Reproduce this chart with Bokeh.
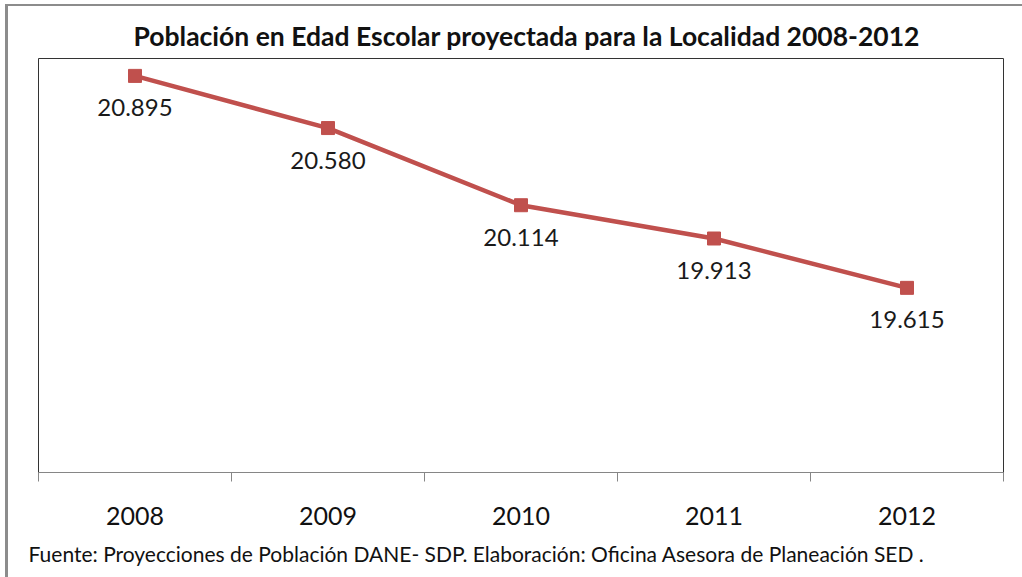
from bokeh.plotting import figure
from bokeh.models import ColumnDataSource, LabelSet, Range1d, FixedTicker, Title
from bokeh.core.properties import value
from bokeh.embed import file_html
from bokeh.resources import INLINE

years = [2008, 2009, 2010, 2011, 2012]
population = [20895, 20580, 20114, 19913, 19615]
labels = [f"{v:,}".replace(",", ".") for v in population]

title_text = "Población en Edad Escolar proyectada para la Localidad 2008-2012"
footer_text = "Fuente: Proyecciones de Población DANE- SDP. Elaboración: Oficina Asesora de Planeación SED ."

LINE_COLOR = "#C0504D"

src = ColumnDataSource(dict(x=years, y=population, lab=labels))

p = figure(width=1022, height=577, output_backend="svg", toolbar_location=None,
           x_range=Range1d(years[0] - 0.5, years[-1] + 0.5),
           y_range=Range1d(18500, 21000),
           min_border_left=38, min_border_right=19, min_border_top=58, min_border_bottom=103)

p.title.text = title_text
p.title.align = "left"
p.title.offset = 95
p.title.standoff = 14
p.title.text_font = "Lato"
p.title.text_font_style = "bold"
p.title.text_font_size = "26.5px"
p.title.text_color = "#111111"

p.line("x", "y", source=src, line_color=LINE_COLOR, line_width=4.5)
p.scatter("x", "y", source=src, marker="square", size=13, fill_color=LINE_COLOR, line_color=LINE_COLOR)

p.add_layout(LabelSet(x="x", y="y", text="lab", source=src, y_offset=-32,
                      text_align="center", text_baseline="middle",
                      text_font=value("Lato"), text_font_size="24px", text_color="#1a1a1a"))

p.xgrid.visible = False
p.ygrid.visible = False
p.yaxis.visible = False

ax = p.xaxis[0]
ax.ticker = FixedTicker(ticks=years, minor_ticks=[y - 0.5 for y in years] + [years[-1] + 0.5])
ax.major_tick_out = 0
ax.major_tick_in = 0
ax.minor_tick_out = 9
ax.minor_tick_in = 0
ax.minor_tick_line_color = "#868686"
ax.axis_line_color = "#868686"
ax.major_label_text_font = "Lato"
ax.major_label_text_font_size = "25px"
ax.major_label_text_color = "#111111"
ax.major_label_standoff = 25

p.outline_line_color = "#333333"
p.outline_line_width = 1
p.background_fill_color = "white"
p.border_fill_color = None

p.add_layout(Title(text=footer_text, align="left", offset=-10, standoff=23, text_font="Lato",
                   text_font_size="21px", text_font_style="normal", text_color="#111111"), "below")

p.styles = {"background-color": "white",
            "box-shadow": "inset 5px 4px 0 0 white, inset 8px 6px 0 0 #8c8c8c"}

open("out.html", "w").write(file_html(p, INLINE))
